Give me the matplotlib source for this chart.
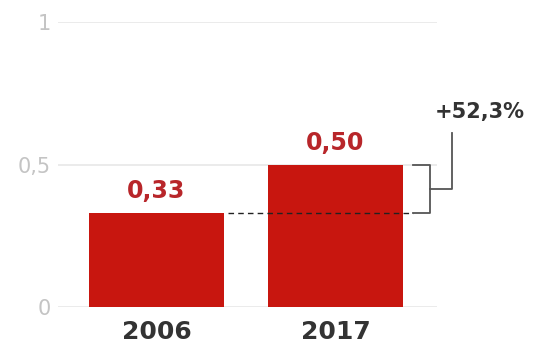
import matplotlib
matplotlib.use("Agg")
import matplotlib.pyplot as plt

years = ["2006", "2017"]
values = [0.33, 0.50]
value_labels = ["0,33", "0,50"]
change_label = "+52,3%"
yticks = [0, 0.5, 1]
ytick_labels = ["0", "0,5", "1"]

BAR = "#c8160f"
LABEL_RED = "#b8262a"
DARK = "#333333"
GRID = "#e8e8e8"

fig = plt.figure(figsize=(5.33, 3.45), dpi=100)
ax = fig.add_axes([0.109, 0.110, 0.711, 0.826])

x = list(range(len(years)))
ax.bar(x, values, width=0.754, color=BAR, zorder=2)

ax.set_xlim(-0.55, 1.567)
ax.set_ylim(0, 1)
for s in ax.spines.values():
    s.set_visible(False)
ax.set_yticks(yticks)
ax.set_yticklabels(ytick_labels, color="#c4c4c4", fontsize=15)
ax.yaxis.grid(True, color=GRID, linewidth=1.2, zorder=0)
ax.tick_params(axis="y", length=0, pad=5)
ax.set_xticks(x)
ax.set_xticklabels(years, fontsize=18, fontweight="bold", color=DARK)
ax.tick_params(axis="x", length=0, pad=9)

for xi, v, lab in zip(x, values, value_labels):
    ax.text(xi, v + 0.035, lab, ha="center", va="bottom", fontsize=17,
            fontweight="bold", color=LABEL_RED)

# dashed reference line from first bar level
ax.plot([0.40, 1.433], [values[0], values[0]], color="#222222", linestyle=(0, (4, 3)),
        linewidth=1.0, zorder=3)

# bracket showing the change
bx0, bx1, bx2 = 1.433, 1.528, 1.651
mid = (values[0] + values[1]) / 2
kw = dict(color="#555555", linewidth=1.3, clip_on=False, zorder=3)
ax.plot([bx0, bx1, bx1, bx0], [values[1], values[1], values[0], values[0]], **kw)
ax.plot([bx1, bx2, bx2], [mid, mid, 0.611], **kw)
ax.text(1.807, 0.683, change_label, ha="center", va="center", fontsize=15,
        fontweight="bold", color=DARK, clip_on=False)

fig.savefig("out.png", dpi=100)
